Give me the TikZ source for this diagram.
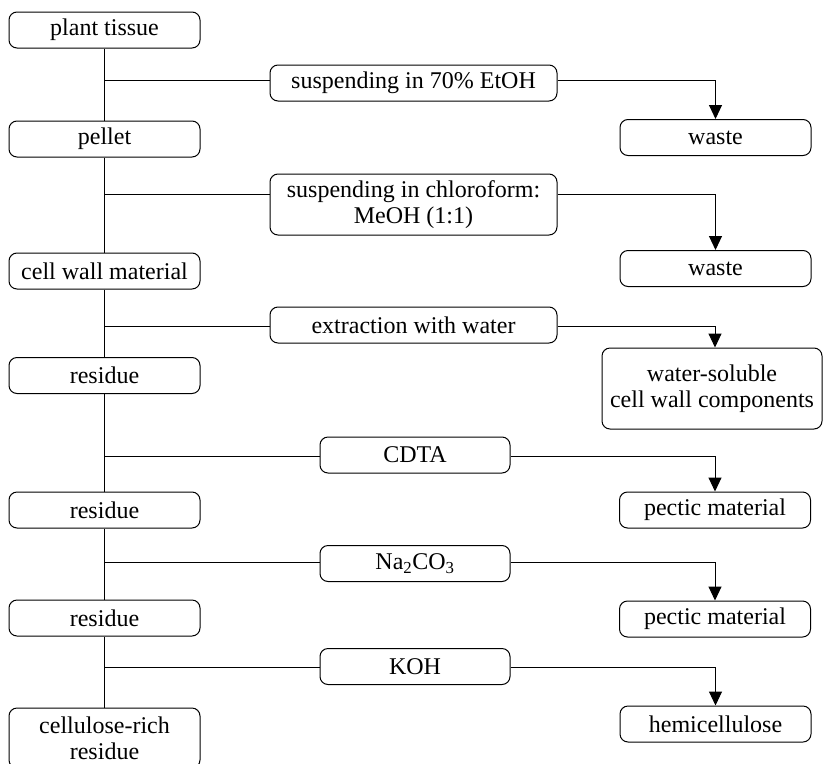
\documentclass[tikz,border=0pt]{standalone}
\usepackage{fontspec}
\setmainfont{Liberation Serif}
\usetikzlibrary{arrows.meta}

\begin{document}
\begin{tikzpicture}[x=1pt,y=-1pt,
  box/.style={draw,line width=1pt,rounded corners=8pt,align=center,inner sep=0pt,
    font=\fontsize{24}{26}\selectfont},
  stage/.style={box,minimum width=191pt,minimum height=36pt},
  treat/.style={box,minimum width=287pt,minimum height=36pt},
  reagent/.style={box,minimum width=190pt,minimum height=36pt},
  product/.style={box,minimum width=191pt,minimum height=36pt},
  link/.style={line width=1pt},
  flow/.style={line width=1pt,-{Triangle[length=14pt,width=13pt]}}]
\useasboundingbox (0,0) rectangle (824,763);
\clip (0,0) rectangle (824,763);

% Left column: what is kept
\node[stage] (plant) at (104.5,30) {plant tissue};
\node[stage] (pellet) at (104.5,139) {pellet};
\node[stage] (wall) at (104.5,271) {cell wall material};
\node[stage] (res1) at (104.5,375.5) {residue};
\node[stage] (res2) at (104.5,510) {residue};
\node[stage] (res3) at (104.5,618) {residue};
\node[stage,minimum height=60pt] (cell) at (104.5,738) {cellulose-rich\\residue};

% Trunk
\draw[link] (plant) -- (pellet);
\draw[link] (pellet) -- (wall);
\draw[link] (wall) -- (res1);
\draw[link] (res1) -- (res2);
\draw[link] (res2) -- (res3);
\draw[link] (res3) -- (cell);

% Branch points on the trunk
\coordinate (b1) at (104.5,80);
\coordinate (b2) at (104.5,194);
\coordinate (b3) at (104.5,326);
\coordinate (b4) at (104.5,456);
\coordinate (b5) at (104.5,562);
\coordinate (b6) at (104.5,667);

% Middle column: treatments
\node[treat] (etoh) at (413.5,83) {suspending in 70\% EtOH};
\node[treat,minimum height=61pt] (chcl) at (413.5,204.5) {suspending in chloroform:\\MeOH (1:1)};
\node[treat] (water) at (413.5,325) {extraction with water};
\node[reagent] (cdta) at (415,455) {CDTA};
\node[reagent] (naco) at (415,563.5) {Na\textsubscript{2}CO\textsubscript{3}};
\node[reagent] (koh) at (415,666.5) {KOH};

% Right column: what is removed
\node[product] (waste1) at (715.5,137.5) {waste};
\node[product] (waste2) at (715.5,268.5) {waste};
\node[box,minimum width=220pt,minimum height=81pt] (sol) at (712,388.5) {water-soluble\\cell wall components};
\node[product] (pect1) at (715,510) {pectic material};
\node[product] (pect2) at (715,619) {pectic material};
\node[product] (hemi) at (715.5,724) {hemicellulose};

% Branches: trunk -> treatment -> removed fraction
\draw[link] (b1) -- (b1 -| etoh.west);
\draw[flow] (etoh.east |- b1) -| (waste1.north);
\draw[link] (b2) -- (b2 -| chcl.west);
\draw[flow] (chcl.east |- b2) -| (waste2.north);
\draw[link] (b3) -- (b3 -| water.west);
\draw[flow] (water.east |- b3) -| ([xshift=3pt]sol.north);
\draw[link] (b4) -- (b4 -| cdta.west);
\draw[flow] (cdta.east |- b4) -| (pect1.north);
\draw[link] (b5) -- (b5 -| naco.west);
\draw[flow] (naco.east |- b5) -| (pect2.north);
\draw[link] (b6) -- (b6 -| koh.west);
\draw[flow] (koh.east |- b6) -| (hemi.north);

\end{tikzpicture}
\end{document}
